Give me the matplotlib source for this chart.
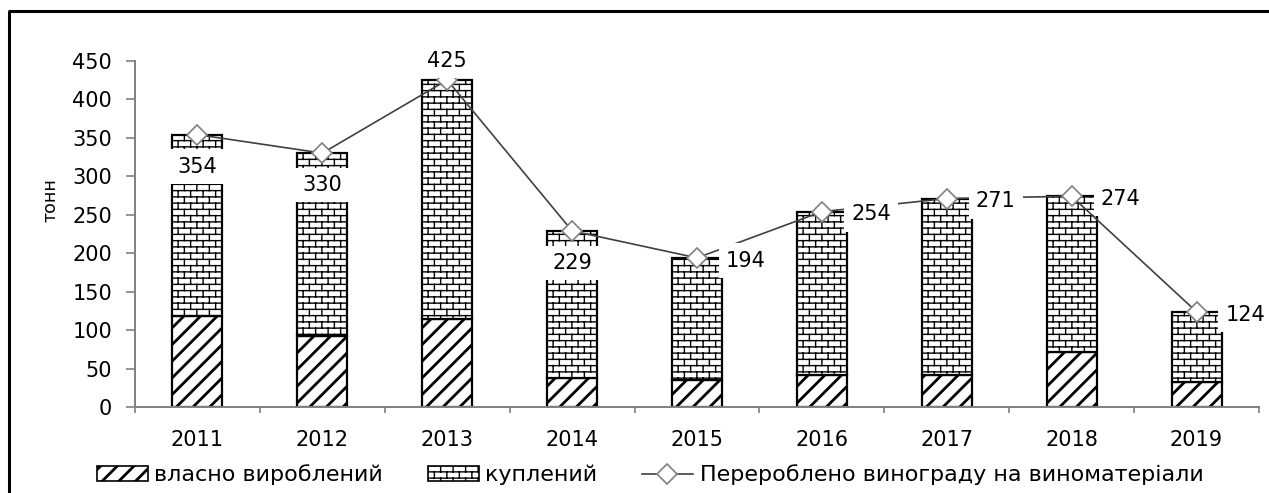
import warnings
import numpy as np
import matplotlib
matplotlib.use('Agg')
import matplotlib.pyplot as plt
import matplotlib.hatch as mhatch
from matplotlib.path import Path
from matplotlib.patches import Patch
from matplotlib.lines import Line2D

warnings.filterwarnings('ignore')

# ---------------- data ----------------
years = ['2011', '2012', '2013', '2014', '2015', '2016', '2017', '2018', '2019']
own = [119, 92, 114, 38, 36, 42, 42, 72, 33]           # власно вироблений
bought = [235, 238, 311, 191, 158, 212, 229, 202, 91]  # куплений
processed = [354, 330, 425, 229, 194, 254, 271, 274, 124]  # перероблено
y_ticks = [0, 50, 100, 150, 200, 250, 300, 350, 400, 450]
label_own = 'власно вироблений'
label_bought = 'куплений'
label_processed = 'Перероблено винограду на виноматеріали'
y_label = 'тонн'

# label placement (style only)
placement = ['below', 'below', 'above', 'below', 'right', 'right', 'right', 'right', 'right']


# ---------------- custom brick hatch ----------------
class BrickHatch(mhatch.HatchPatternBase):
    ROWS, COLS = 16, 8

    def __init__(self, hatch, density):
        self.on = 'b' in hatch
        r, c = self.ROWS, self.COLS
        self.num_vertices = (2 * r + 2 * (r + 1) * c) if self.on else 0

    def set_vertices_and_codes(self, vertices, codes):
        r, c = self.ROWS, self.COLS
        segs = []
        for k in range(r):
            y = (k + 0.5) / r
            segs.append(((0.0, y), (1.0, y)))
        for k in range(-1, r):
            y0 = (k + 0.5) / r
            y1 = (k + 1.5) / r
            shift = 0.5 if k % 2 else 0.0
            for j in range(c):
                x = (j + 0.25 + shift) / c
                segs.append(((x, y0), (x, y1)))
        vertices[:] = np.array(segs, dtype=float).reshape(-1, 2)
        codes[0::2] = Path.MOVETO
        codes[1::2] = Path.LINETO


mhatch._hatch_types.append(BrickHatch)
mhatch._validate_hatch_pattern = lambda hatch: None

plt.rcParams['font.family'] = ['DejaVu Sans']
plt.rcParams['hatch.linewidth'] = 1.0

W, H = 1269, 493
fig = plt.figure(figsize=(W / 100, H / 100), dpi=100)
ax = fig.add_axes([135 / W, 1 - 407.3 / H, (1259 - 135) / W, (407.3 - 60.7) / H])

x = np.arange(len(years))
bw = 0.4
b1 = ax.bar(x, own, width=bw, facecolor='white', edgecolor='black', linewidth=1.6,
            hatch='//', zorder=2)
b2 = ax.bar(x, bought, bottom=own, width=bw, facecolor='white', edgecolor='black',
            linewidth=1.6, hatch='b', zorder=2)


def set_hlw(patches, lw):
    for p in patches:
        if hasattr(p, 'set_hatch_linewidth'):
            p.set_hatch_linewidth(lw)


set_hlw(b1.patches, 2.0)
set_hlw(b2.patches, 1.0)

ax.plot(x, processed, color='#404040', lw=1.2, marker='D', ms=10.5,
        mfc='white', mec='#808080', mew=1.2, zorder=3)

offsets = {'below': (0, -23), 'above': (0, 14), 'right': (21, -2)}
for i, v in enumerate(processed):
    dx, dy = offsets[placement[i]]
    ha = 'left' if placement[i] == 'right' else 'center'
    ax.annotate(str(v), (x[i], v), xytext=(dx, dy), textcoords='offset points',
                ha=ha, va='center', fontsize=15, color='black', zorder=5,
                bbox=dict(boxstyle='square,pad=0.35', facecolor='white',
                          edgecolor='none'))

ax.set_xlim(-0.5, len(years) - 0.5)
ax.set_ylim(0, 450)
ax.set_yticks(y_ticks)
ax.set_xticks(np.arange(-0.5, len(years)), minor=False)
ax.set_xticklabels([])
ax.set_xticks(x, minor=True)
ax.set_xticklabels(years, minor=True)
ax.tick_params(axis='x', which='major', direction='out', length=4.5, width=1.2,
               color='#808080')
ax.tick_params(axis='x', which='minor', length=0, pad=16, labelsize=15)
ax.tick_params(axis='y', direction='out', length=6.5, width=1.2, color='#808080',
               pad=10, labelsize=15)
for s in ['top', 'right']:
    ax.spines[s].set_visible(False)
for s in ['left', 'bottom']:
    ax.spines[s].set_color('#808080')
    ax.spines[s].set_linewidth(1.4)

fig.text(50 / W, 1 - 200 / H, y_label, rotation=90, ha='center', va='center',
         fontsize=12.5)

handles = [
    Patch(facecolor='white', edgecolor='black', linewidth=1.2, hatch='//'),
    Patch(facecolor='white', edgecolor='black', linewidth=1.2, hatch='b'),
    Line2D([], [], color='#404040', lw=1.2, marker='D', ms=10.5, mfc='white',
           mec='#808080', mew=1.2),
]
leg = fig.legend(handles, [label_own, label_bought, label_processed], loc='center',
                 bbox_to_anchor=(650 / W, 1 - 475 / H), ncol=3, frameon=False,
                 fontsize=16, handlelength=2.3, handleheight=0.7,
                 handletextpad=0.3, columnspacing=2.0, borderaxespad=0)
set_hlw(leg.get_patches()[:1], 2.0)
set_hlw(leg.get_patches()[1:], 1.0)

# outer frame (left and top edges visible)
fig.add_artist(Line2D([8.5 / W, 8.5 / W], [0, 1 - 10.5 / H], transform=fig.transFigure,
                      color='black', lw=2.2, solid_capstyle='butt'))
fig.add_artist(Line2D([7.5 / W, 1], [1 - 10.5 / H, 1 - 10.5 / H], transform=fig.transFigure,
                      color='black', lw=2.2, solid_capstyle='butt'))

fig.savefig('out.png', dpi=100, facecolor='white')
